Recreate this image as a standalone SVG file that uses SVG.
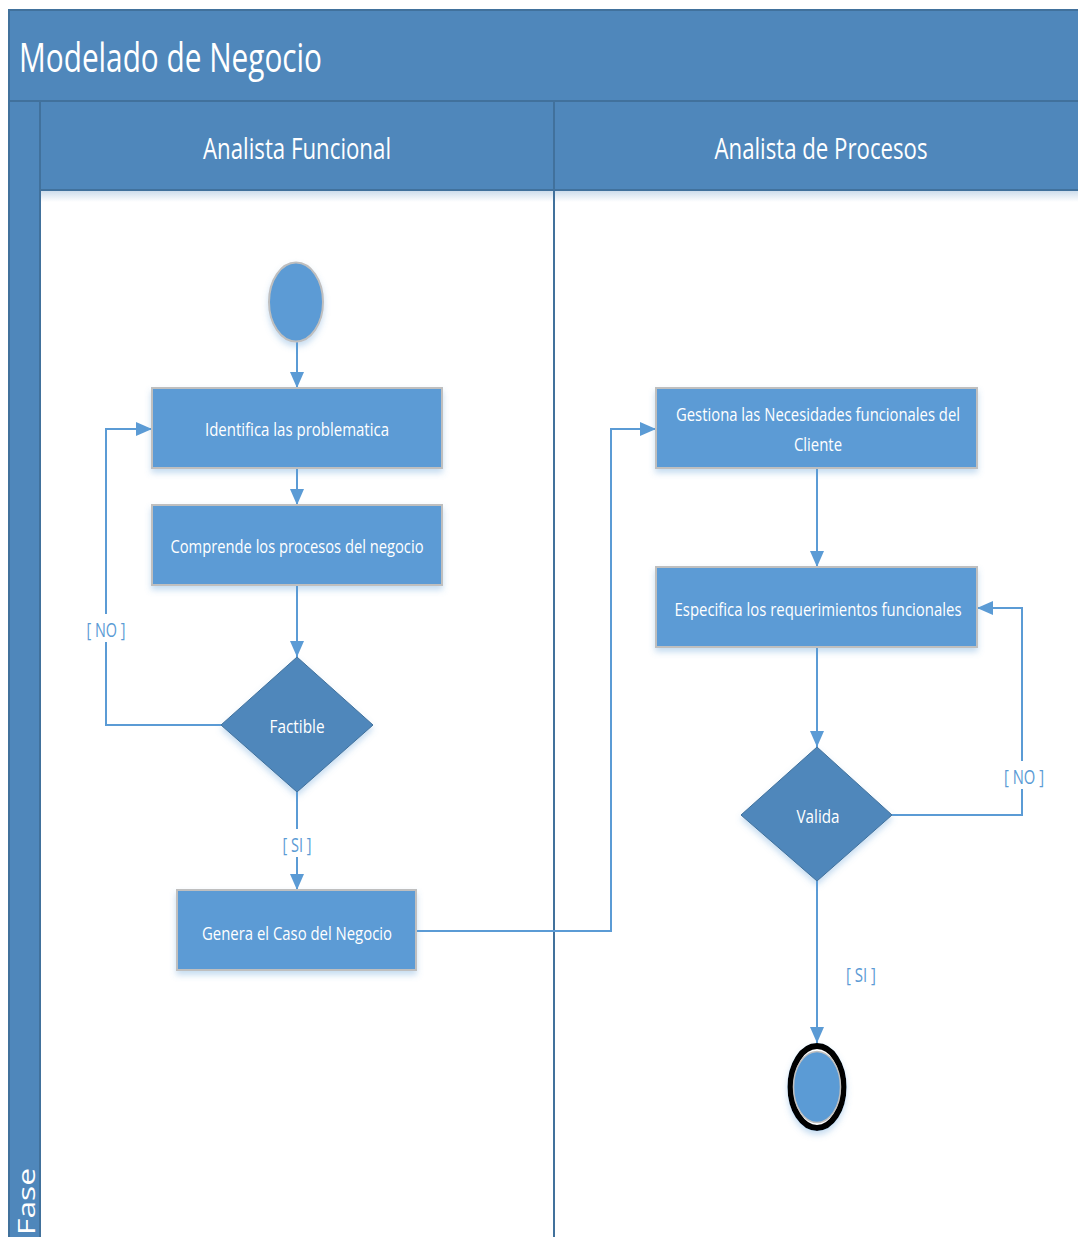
<svg xmlns="http://www.w3.org/2000/svg" width="1078" height="1237" viewBox="0 0 1078 1237">
  <defs>
    <style>
      .band { fill: #4f87bb; stroke: #41719c; stroke-width: 2; }
      .hdr { font-family: "Open Sans", "Liberation Sans", sans-serif; fill: #ffffff; }
      .act { fill: #5b9bd5; stroke: #bfbfbf; stroke-width: 2; filter: url(#shadow); }
      .dec { fill: #4f87bb; stroke: #41719c; stroke-width: 1; filter: url(#shadow); }
      .lbl { font-family: "Open Sans", "Liberation Sans", sans-serif; font-size: 19px; fill: #ffffff; text-anchor: middle; }
      .guard { font-family: "Open Sans", "Liberation Sans", sans-serif; font-size: 20px; fill: #5b9bd5; text-anchor: middle; }
      .flow { fill: none; stroke: #5b9bd5; stroke-width: 2; }
      .gap { fill: #ffffff; }
    </style>
    <marker id="arrow" markerUnits="userSpaceOnUse" markerWidth="16" markerHeight="14" refX="16" refY="7" orient="auto">
      <path d="M0,0 L16,7 L0,14 z" fill="#5b9bd5"/>
    </marker>
    <filter id="shadow" x="-20%" y="-20%" width="140%" height="150%">
      <feGaussianBlur in="SourceAlpha" stdDeviation="3"/>
      <feOffset dx="0" dy="4" result="b"/>
      <feFlood flood-color="#5b9bd5" flood-opacity="0.35"/>
      <feComposite in2="b" operator="in"/>
      <feMerge><feMergeNode/><feMergeNode in="SourceGraphic"/></feMerge>
    </filter>
    <linearGradient id="hdrShade" x1="0" y1="0" x2="0" y2="1">
      <stop offset="0" stop-color="#c9daea"/>
      <stop offset="1" stop-color="#ffffff"/>
    </linearGradient>
  </defs>

  <rect width="1078" height="1237" fill="#ffffff"/>

  <!-- pool frame: title band, phase strip, lane headers -->
  <g id="pool">
    <rect class="band" x="9" y="10" width="1080" height="91"/>
    <text class="hdr" x="19" y="72" font-size="40" textLength="303" lengthAdjust="spacingAndGlyphs">Modelado de Negocio</text>
    <rect x="41" y="190" width="1040" height="12" fill="url(#hdrShade)"/>
    <rect class="band" x="9" y="101" width="31" height="1150"/>
    <text class="hdr" font-size="24" transform="translate(35,1235) rotate(-90)" textLength="67" lengthAdjust="spacingAndGlyphs">Fase</text>
    <rect class="band" x="40" y="101" width="514" height="89"/>
    <rect class="band" x="554" y="101" width="530" height="89"/>
    <text class="hdr" x="297" y="159" font-size="30" text-anchor="middle" textLength="188" lengthAdjust="spacingAndGlyphs">Analista Funcional</text>
    <text class="hdr" x="821" y="159" font-size="30" text-anchor="middle" textLength="213" lengthAdjust="spacingAndGlyphs">Analista de Procesos</text>
    <line x1="554" y1="190" x2="554" y2="1237" stroke="#41719c" stroke-width="2"/>
  </g>

  <!-- control flow -->
  <g id="connectors">
    <line class="flow" x1="297" y1="342" x2="297" y2="388" marker-end="url(#arrow)"/>
    <line class="flow" x1="297" y1="468" x2="297" y2="505" marker-end="url(#arrow)"/>
    <line class="flow" x1="297" y1="585" x2="297" y2="657" marker-end="url(#arrow)"/>
    <polyline class="flow" points="221,725 106,725 106,429 152,429" marker-end="url(#arrow)"/>
    <line class="flow" x1="297" y1="792" x2="297" y2="890" marker-end="url(#arrow)"/>
    <polyline class="flow" points="416,931 611,931 611,429 656,429" marker-end="url(#arrow)"/>
    <line class="flow" x1="817" y1="468" x2="817" y2="567" marker-end="url(#arrow)"/>
    <line class="flow" x1="817" y1="647" x2="817" y2="747" marker-end="url(#arrow)"/>
    <polyline class="flow" points="892,815 1022,815 1022,608 977,608" marker-end="url(#arrow)"/>
    <line class="flow" x1="817" y1="881" x2="817" y2="1043" marker-end="url(#arrow)"/>

    <rect class="gap" x="85" y="614" width="43" height="28"/>
    <text class="guard" x="106" y="637" textLength="39" lengthAdjust="spacingAndGlyphs">[ NO ]</text>
    <rect class="gap" x="280" y="829" width="35" height="28"/>
    <text class="guard" x="297" y="852" textLength="29" lengthAdjust="spacingAndGlyphs">[ SI ]</text>
    <rect class="gap" x="1002" y="761" width="44" height="28"/>
    <text class="guard" x="1024" y="784" textLength="40" lengthAdjust="spacingAndGlyphs">[ NO ]</text>
    <text class="guard" x="861" y="982" textLength="30" lengthAdjust="spacingAndGlyphs">[ SI ]</text>
  </g>

  <g id="start">
    <ellipse cx="296" cy="302" rx="27" ry="39.5" fill="#5b9bd5" stroke="#bfbfbf" stroke-width="2" filter="url(#shadow)"/>
  </g>

  <g id="identifica">
    <rect class="act" x="152" y="388" width="290" height="80"/>
    <text class="lbl" x="297" y="436" textLength="184" lengthAdjust="spacingAndGlyphs">Identifica las problematica</text>
  </g>

  <g id="comprende">
    <rect class="act" x="152" y="505" width="290" height="80"/>
    <text class="lbl" x="297" y="553" textLength="253" lengthAdjust="spacingAndGlyphs">Comprende los procesos del negocio</text>
  </g>

  <g id="factible">
    <polygon class="dec" points="297,657 373,725 297,792 221,725"/>
    <text class="lbl" x="297" y="733" textLength="55" lengthAdjust="spacingAndGlyphs">Factible</text>
  </g>

  <g id="genera">
    <rect class="act" x="177" y="890" width="239" height="80"/>
    <text class="lbl" x="297" y="940" textLength="190" lengthAdjust="spacingAndGlyphs">Genera el Caso del Negocio</text>
  </g>

  <g id="gestiona">
    <rect class="act" x="656" y="388" width="321" height="80"/>
    <text class="lbl" x="818" y="421" textLength="284" lengthAdjust="spacingAndGlyphs">Gestiona las Necesidades funcionales del</text>
    <text class="lbl" x="818" y="451" textLength="48" lengthAdjust="spacingAndGlyphs">Cliente</text>
  </g>

  <g id="especifica">
    <rect class="act" x="656" y="567" width="321" height="80"/>
    <text class="lbl" x="818" y="616" textLength="287" lengthAdjust="spacingAndGlyphs">Especifica los requerimientos funcionales</text>
  </g>

  <g id="valida">
    <polygon class="dec" points="817,747 892,815 817,881 741,815"/>
    <text class="lbl" x="818" y="823" textLength="43" lengthAdjust="spacingAndGlyphs">Valida</text>
  </g>

  <g id="end">
    <ellipse cx="817" cy="1087" rx="26.5" ry="41" fill="#ffffff" stroke="#000000" stroke-width="6" filter="url(#shadow)"/>
    <ellipse cx="817" cy="1087" rx="23.5" ry="35.5" fill="#5b9bd5" stroke="#bfbfbf" stroke-width="1.5"/>
  </g>
</svg>
